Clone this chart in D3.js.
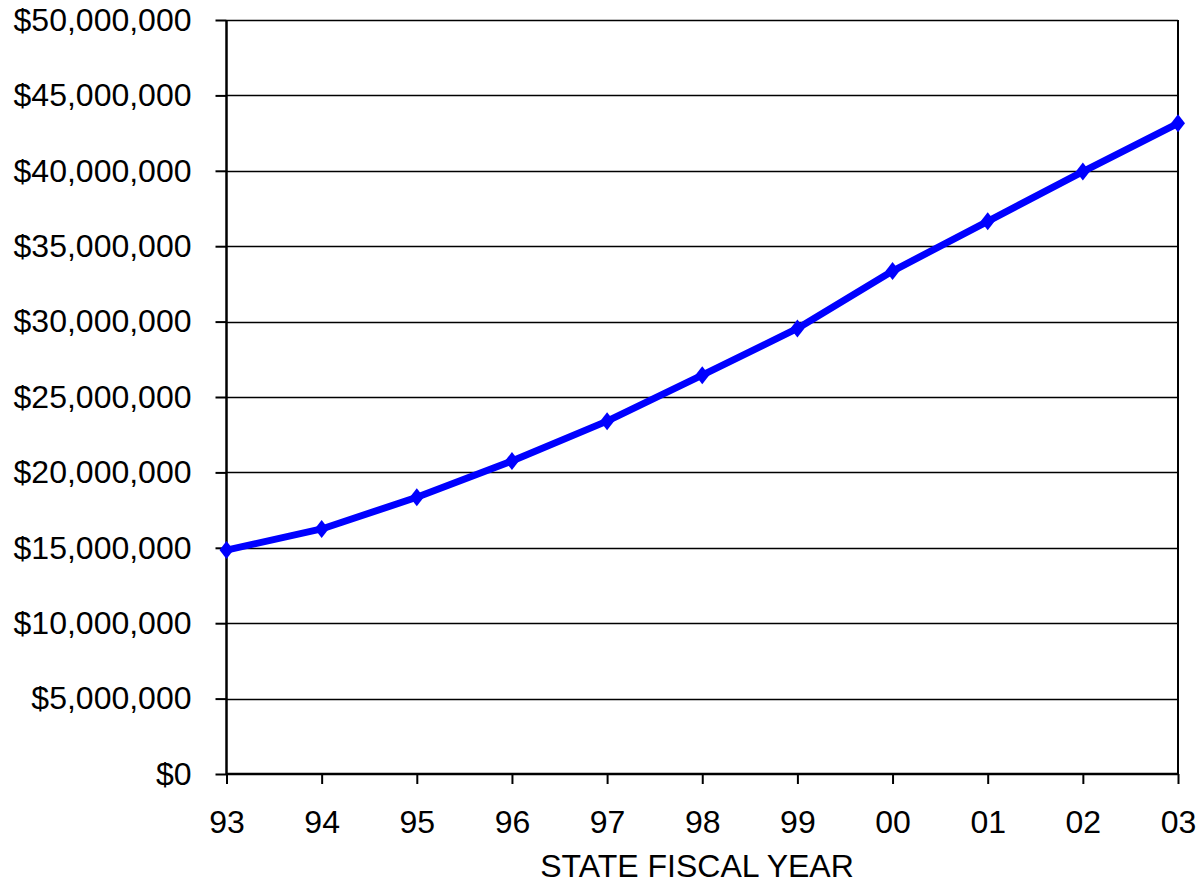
<!DOCTYPE html>
<html><head><meta charset="utf-8">
<script src="https://cdn.jsdelivr.net/npm/d3@7"></script>
<style>body{margin:0;background:#fff}svg{display:block}text{font-family:"Liberation Sans",Arial,sans-serif}</style>
</head><body><svg id="c" width="1203" height="884"></svg>
<script>
const years = ["93","94","95","96","97","98","99","00","01","02","03"];
const values = [14850000,16250000,18350000,20750000,23400000,26450000,29550000,33350000,36650000,39950000,43150000];
const yTicks = [0,5000000,10000000,15000000,20000000,25000000,30000000,35000000,40000000,45000000,50000000];
const xTitle = "STATE FISCAL YEAR";

const svg = d3.select("#c");
const L=226.5, R=1178, T=20, B=774;
const FS=32;
const x = d3.scalePoint().domain(years).range([L,R]).padding(0);
const y = d3.scaleLinear().domain([0,50000000]).range([B,T]);
const fmt = v => "$" + d3.format(",")(v);

// gridlines
svg.append("g").selectAll("line").data(yTicks.filter(v=>v>0)).join("line")
  .attr("x1",L).attr("x2",R).attr("y1",d=>Math.round(y(d))+0.5).attr("y2",d=>Math.round(y(d))+0.5)
  .attr("stroke","#000").attr("stroke-width",1.3);
// right border
svg.append("line").attr("x1",R).attr("x2",R).attr("y1",T).attr("y2",B).attr("stroke","#000").attr("stroke-width",2);

// y axis
const ya = svg.append("g").attr("transform",`translate(${L},0)`)
  .call(d3.axisLeft(y).tickValues(yTicks).tickFormat(fmt).tickSize(11).tickPadding(24));
ya.select(".domain").attr("stroke-width",2.5).attr("d",`M0,${T}V${B}`);
ya.selectAll(".tick line").attr("stroke-width",2);
ya.selectAll("text").attr("font-size",FS).attr("font-family","Liberation Sans, Arial, sans-serif").attr("fill","#000");

// x axis
const xa = svg.append("g").attr("transform",`translate(0,${B})`)
  .call(d3.axisBottom(x).tickSize(10).tickPadding(26));
xa.select(".domain").attr("stroke-width",2.5).attr("d",`M${L},0H${R}`);
xa.selectAll(".tick line").attr("stroke-width",2);
xa.selectAll("text").attr("font-size",FS).attr("font-family","Liberation Sans, Arial, sans-serif").attr("fill","#000");

svg.append("text").attr("x",697).attr("y",877).attr("text-anchor","middle")
  .attr("font-size",FS).attr("fill","#000").text(xTitle);

// line
const data = years.map((k,i)=>({k,v:values[i]}));
svg.append("path").datum(data)
  .attr("d",d3.line().x(d=>x(d.k)).y(d=>y(d.v)))
  .attr("fill","none").attr("stroke","#0000ff").attr("stroke-width",7).attr("stroke-linejoin","round");
svg.append("g").selectAll("path").data(data).join("path")
  .attr("d","M0,-9L7,0L0,9L-7,0Z")
  .attr("transform",d=>`translate(${x(d.k)},${y(d.v)})`)
  .attr("fill","#0000ff");
</script></body></html>
